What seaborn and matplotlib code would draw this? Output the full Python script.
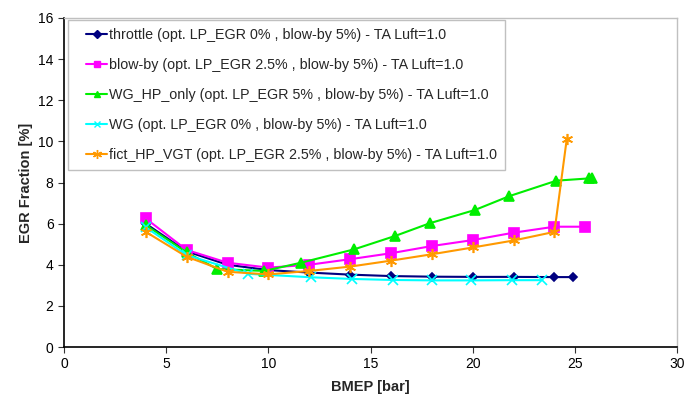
import pandas as pd
import matplotlib
matplotlib.use("Agg")
import matplotlib.pyplot as plt
from matplotlib.lines import Line2D
from matplotlib.legend_handler import HandlerLine2D
import seaborn as sns

# series values
throttle_x = [4, 6, 8, 10, 12, 14, 16, 18, 20, 22, 24, 24.9]
throttle_y = [6.0, 4.65, 4.0, 3.74, 3.62, 3.52, 3.45, 3.42, 3.41, 3.41, 3.40, 3.40]

blowby_x = [4, 6, 8, 10, 12, 14, 16, 18, 20, 22, 24, 25.5]
blowby_y = [6.25, 4.72, 4.1, 3.86, 4.0, 4.27, 4.56, 4.91, 5.2, 5.56, 5.85, 5.85]

wg_hp_x = [4, 6, 7.5, 9.8, 11.6, 14.2, 16.2, 17.9, 20.1, 21.8, 24.1, 25.7, 25.85]
wg_hp_y = [5.93, 4.6, 3.79, 3.7, 4.1, 4.75, 5.4, 6.02, 6.66, 7.34, 8.09, 8.2, 8.2]

wg_x = [4, 6, 9, 12.1, 14.1, 16.1, 18, 19.9, 21.9, 23.4]
wg_y = [5.82, 4.47, 3.56, 3.39, 3.31, 3.26, 3.24, 3.24, 3.25, 3.25]

fict_x = [4, 6, 8, 10, 12, 14, 16, 18, 20, 22, 24, 24.6]
fict_y = [5.6, 4.39, 3.66, 3.53, 3.7, 3.91, 4.2, 4.51, 4.84, 5.18, 5.6, 10.1]

names = [
    "throttle (opt. LP_EGR 0% , blow-by 5%) - TA Luft=1.0",
    "blow-by (opt. LP_EGR 2.5% , blow-by 5%) - TA Luft=1.0",
    "WG_HP_only (opt. LP_EGR 5% , blow-by 5%) - TA Luft=1.0",
    "WG (opt. LP_EGR 0% , blow-by 5%) - TA Luft=1.0",
    "fict_HP_VGT (opt. LP_EGR 2.5% , blow-by 5%) - TA Luft=1.0",
]
xs = [throttle_x, blowby_x, wg_hp_x, wg_x, fict_x]
ys = [throttle_y, blowby_y, wg_hp_y, wg_y, fict_y]

rows = []
for n, xx, yy in zip(names, xs, ys):
    for i, (a, b) in enumerate(zip(xx, yy)):
        rows.append({"series": n, "order": i, "BMEP": a, "EGR": b})
df = pd.DataFrame(rows)

colors = ["#000080", "#FF00FF", "#00EE00", "#00FFFF", "#FF9900"]
markers = ["D", "s", "^", "x", (6, 2, 0)]
msizes = [4.5, 6.5, 6.5, 6.5, 8]
leg_msizes = [4, 5, 5, 5, 6.5]

sns.set_style("white")
plt.rcParams["font.family"] = ["Liberation Sans", "DejaVu Sans"]

fig = plt.figure(figsize=(6.99, 3.99), dpi=100)
ax = fig.add_axes([0.0916, 0.1303, 0.877, 0.8246])

for n, c, m, s in zip(names, colors, markers, msizes):
    sub = df[df["series"] == n]
    sns.lineplot(data=sub, x="BMEP", y="EGR", sort=False, estimator=None,
                 color=c, marker=m, markersize=s, markeredgecolor=c,
                 markeredgewidth=1.2, linewidth=1.5, label=n, ax=ax)

ax.set_xlim(0, 30)
ax.set_ylim(0, 16)
ax.set_xticks(range(0, 31, 5))
ax.set_yticks(range(0, 17, 2))
ax.tick_params(axis="both", labelsize=10, length=4, width=0.8,
               direction="out", colors="#333333", labelcolor="black",
               bottom=True, left=True)
ax.set_xlabel("BMEP [bar]", fontsize=10.5, fontweight="bold", labelpad=6)
ax.set_ylabel("EGR Fraction [%]", fontsize=10.5, fontweight="bold", labelpad=4)

for side in ["left", "bottom"]:
    ax.spines[side].set_color("black")
    ax.spines[side].set_linewidth(1.2)
for side in ["top", "right"]:
    ax.spines[side].set_color("#c0c0c0")
    ax.spines[side].set_linewidth(1.0)

handles, labels = ax.get_legend_handles_labels()
leg = ax.legend(handles, labels, loc="upper left", bbox_to_anchor=(0.006, 0.993),
                borderaxespad=0, fontsize=10.3, frameon=True, fancybox=False,
                edgecolor="#c0c0c0", framealpha=1, labelspacing=1.12,
                handlelength=2.2, handletextpad=0.15, borderpad=0.55,
                handler_map={Line2D: HandlerLine2D(xpad=0.75)})
leg.get_frame().set_linewidth(1.0)
for h, s in zip(leg.legend_handles, leg_msizes):
    h.set_markersize(s)
    h.set_markeredgewidth(1.0)

fig.savefig("out.png", dpi=100)
